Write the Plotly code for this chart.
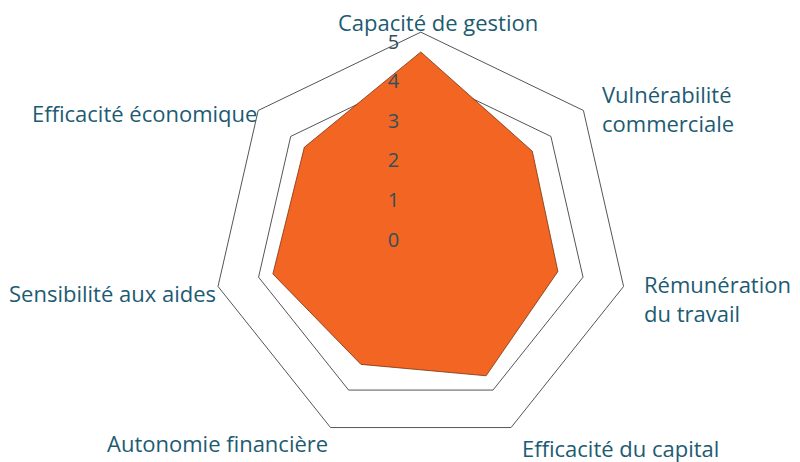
import plotly.graph_objects as go

# axes du radar (sens horaire depuis le haut)
criteres = ["Capacité de gestion", "Vulnérabilité<br>commerciale", "Rémunération<br>du travail",
            "Efficacité du capital", "Autonomie financière", "Sensibilité aux aides",
            "Efficacité économique"]
notes = [4.75, 3.6, 3.55, 3.8, 3.48, 3.83, 3.76]
graduations = [0, 1, 2, 3, 4, 5]
grille = [4.2]
rmax = 5.25

orange = "#f26522"
bleu = "#1d5b72"
gris_texte = "#33505c"

fig = go.Figure()

# polygone principal
fig.add_trace(go.Scatterpolar(
    r=notes + [notes[0]],
    theta=criteres + [criteres[0]],
    fill="toself",
    fillcolor=orange,
    line=dict(color="#7a3510", width=0.8),
    mode="lines",
    subplot="polar",
    hoverinfo="skip",
))

# trace invisible pour afficher les graduations par dessus
fig.add_trace(go.Scatterpolar(
    r=[0] * len(criteres),
    theta=criteres,
    mode="markers",
    marker=dict(opacity=0),
    subplot="polar2",
    hoverinfo="skip",
))

dom = dict(x=[0.256, 0.776], y=[0.047, 0.948])

# emplacement des libellés (en pixels depuis le coin haut gauche)
places = [(430, 14, "center"), (592, 101, "left"), (634, 290, "left"),
          (512, 440, "left"), (322, 435, "right"), (210, 285, "right"),
          (251, 105, "right")]
for nom, (px_, py_, ancre) in zip(criteres, places):
    fig.add_annotation(text=nom, x=px_ / 800, y=1 - py_ / 462, xref="paper", yref="paper",
                       xanchor=ancre, yanchor="middle", align=ancre,
                       showarrow=False, font=dict(size=22, color=bleu))

fig.update_layout(
    width=800, height=462,
    margin=dict(t=0, b=0, l=0, r=0),
    paper_bgcolor="white",
    showlegend=False,
    font=dict(family="Open Sans"),
    polar=dict(
        domain=dom,
        bgcolor="rgba(0,0,0,0)",
        gridshape="linear",
        radialaxis=dict(range=[0, rmax], tickvals=grille, showticklabels=False,
                        showgrid=True, gridcolor="#555", gridwidth=1,
                        showline=False, ticks="", angle=90),
        angularaxis=dict(rotation=90, direction="clockwise", showline=True,
                         linecolor="#555", linewidth=1, showgrid=False, ticks="",
                         showticklabels=False),
    ),
    polar2=dict(
        domain=dom,
        bgcolor="rgba(0,0,0,0)",
        gridshape="linear",
        radialaxis=dict(range=[0, rmax], tickvals=graduations,
                        showgrid=False, showline=False,
                        ticks="outside", ticklen=14, tickcolor="rgba(0,0,0,0)",
                        angle=90, tickangle=90, side="counterclockwise",
                        tickfont=dict(size=20, color=gris_texte)),
        angularaxis=dict(rotation=90, direction="clockwise", visible=False),
    ),
)

fig.write_html("out.html")
